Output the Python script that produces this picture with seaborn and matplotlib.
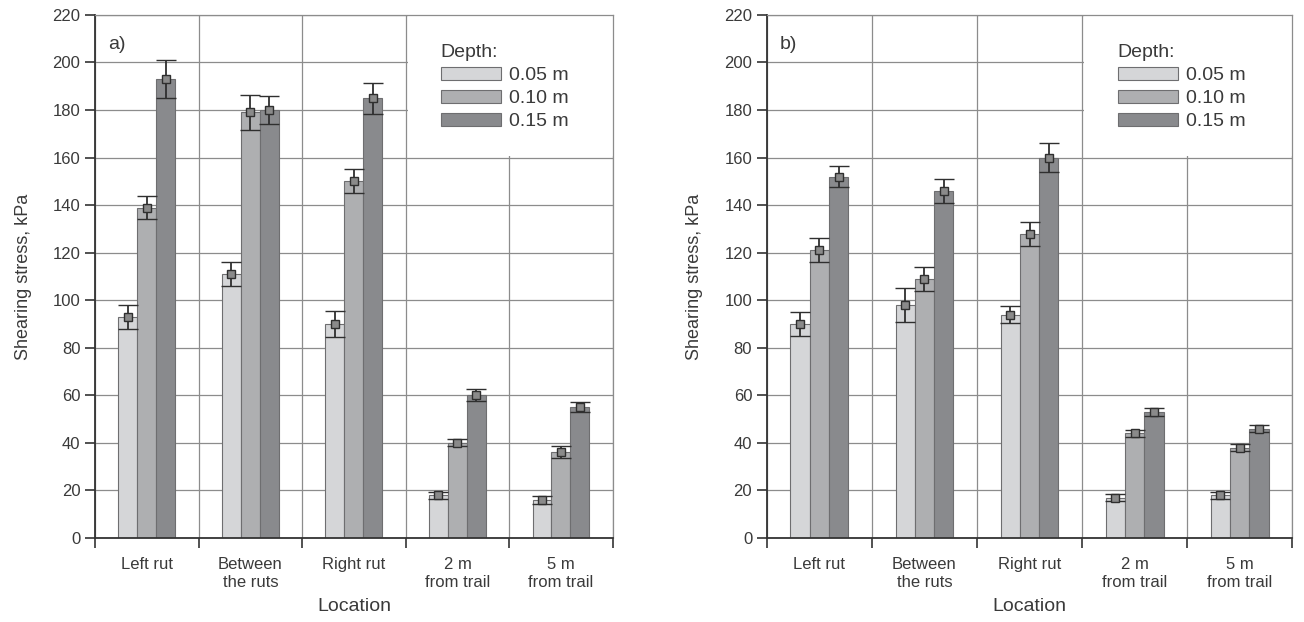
import numpy as np
import pandas as pd
import seaborn as sns
import matplotlib.pyplot as plt
from matplotlib.patches import Rectangle
from matplotlib.ticker import MultipleLocator, FixedLocator

locations = ['Left rut', 'Between\nthe ruts', 'Right rut', '2 m\nfrom trail', '5 m\nfrom trail']
depths = ['0.05 m', '0.10 m', '0.15 m']

# panel a) mean shearing stress, kPa (per depth, per location)
a_005 = [93, 111, 90, 18, 16]
a_010 = [139, 179, 150, 40, 36]
a_015 = [193, 180, 185, 60, 55]
a_err_005 = [5, 5, 5.5, 1.5, 1.5]
a_err_010 = [5, 7.5, 5, 1.5, 2.5]
a_err_015 = [8, 6, 6.5, 2.5, 2]

# panel b)
b_005 = [90, 98, 94, 17, 18]
b_010 = [121, 109, 128, 44, 38]
b_015 = [152, 146, 160, 53, 46]
b_err_005 = [5, 7, 3.5, 1.5, 1.5]
b_err_010 = [5, 5, 5, 1.5, 1.5]
b_err_015 = [4.5, 5, 6, 1.5, 1.5]

bar_colors = ['#d5d6d8', '#aeafb1', '#898a8d']

sns.set_theme(style='white')
plt.rcParams['font.family'] = ['Liberation Sans Narrow', 'Liberation Sans', 'DejaVu Sans']
txt = '#3a3a3a'


def make_df(v1, v2, v3, e1, e2, e3):
    rows = []
    for d, vals, errs in zip(depths, [v1, v2, v3], [e1, e2, e3]):
        for loc, v, e in zip(locations, vals, errs):
            rows.append({'Location': loc, 'Depth': d, 'stress': v, 'err': e})
    return pd.DataFrame(rows)


def draw_panel(ax, df, tag):
    ax.set_axisbelow(True)
    sns.barplot(data=df, x='Location', y='stress', hue='Depth', order=locations,
                hue_order=depths, palette=bar_colors, width=0.55, gap=0,
                errorbar=None, edgecolor='#6e6e70', linewidth=0.8, ax=ax,
                saturation=1, legend=True)

    # error bars on top of each bar (patches in hue order, then location order)
    bars = [p for p in ax.patches if p.get_height() > 0]
    n = len(locations)
    for i, p in enumerate(bars[:3 * n]):
        d = depths[i // n]
        loc = locations[i % n]
        row = df[(df.Depth == d) & (df.Location == loc)].iloc[0]
        xc = p.get_x() + p.get_width() / 2
        ax.errorbar(xc, row.stress, yerr=row.err, fmt='s', ms=5.5, mfc='#8a8a8a',
                    mec='#2f2f2f', mew=1.0, ecolor='#2f2f2f', elinewidth=1.3,
                    capsize=7, capthick=1.4, zorder=4)

    ax.set_xlim(-0.5, 4.5)
    ax.set_ylim(0, 220)
    ax.yaxis.set_major_locator(MultipleLocator(20))
    ax.xaxis.set_minor_locator(FixedLocator(np.arange(-0.5, 5, 1)))
    ax.grid(axis='y', which='major', color='#8c8c8c', lw=0.9)
    ax.grid(axis='x', which='minor', color='#8c8c8c', lw=0.9)
    ax.grid(axis='x', which='major', visible=False)

    # white area behind legend hides the grid there
    ax.add_patch(Rectangle((2.52, 160.6), 1.98, 59.4, facecolor='white', edgecolor='none', zorder=0.8))

    ax.tick_params(axis='x', which='major', length=0, labelsize=12, labelcolor=txt, pad=14)
    ax.tick_params(axis='x', which='minor', bottom=True, length=7, width=1.2, color='#333333')
    ax.tick_params(axis='y', left=True, length=7, width=1.2, color='#333333',
                   labelsize=12, labelcolor=txt)
    for s in ['left', 'bottom']:
        ax.spines[s].set_color('#333333')
        ax.spines[s].set_linewidth(1.3)
    for s in ['top', 'right']:
        ax.spines[s].set_color('#8c8c8c')
        ax.spines[s].set_linewidth(0.9)

    ax.set_xlabel('Location', fontsize=14, color=txt, labelpad=6)
    ax.set_ylabel('Shearing stress, kPa', fontsize=13, color=txt, labelpad=15)
    ax.text(0.025, 0.935, tag, transform=ax.transAxes, fontsize=14, color=txt)

    leg = ax.legend(title='Depth:', loc='upper left', bbox_to_anchor=(0.649, 0.963),
                    frameon=False, fontsize=14, title_fontsize=14,
                    handlelength=3.1, handleheight=0.65, handletextpad=0.4,
                    labelspacing=0.3, alignment='left', borderpad=0)
    for t in leg.get_texts():
        t.set_color(txt)
    leg.get_title().set_color(txt)


fig = plt.figure(figsize=(13.04, 6.22), dpi=100)
ax1 = fig.add_axes([0.0729, 0.135, 0.397, 0.841])
ax2 = fig.add_axes([0.588, 0.135, 0.403, 0.841])

draw_panel(ax1, make_df(a_005, a_010, a_015, a_err_005, a_err_010, a_err_015), 'a)')
draw_panel(ax2, make_df(b_005, b_010, b_015, b_err_005, b_err_010, b_err_015), 'b)')

fig.savefig('out.png', dpi=100, facecolor='white')
